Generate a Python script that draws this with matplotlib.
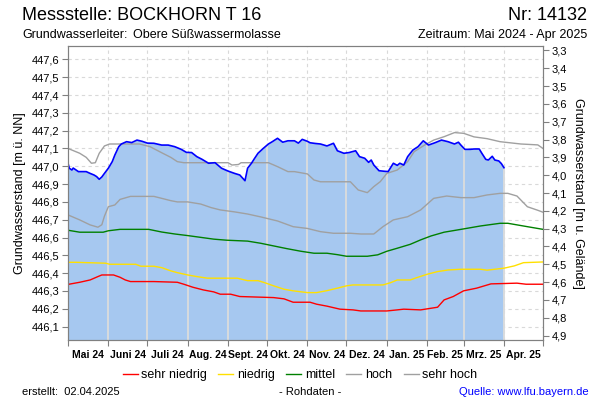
import numpy as np
import pandas as pd
import matplotlib
matplotlib.use("Agg")
import matplotlib.pyplot as plt
from matplotlib.ticker import FixedLocator, FuncFormatter, NullFormatter

plt.rcParams['font.family'] = ['Liberation Sans', 'DejaVu Sans']

# Basisdaten
start = pd.Timestamp('2024-05-01')
ende = pd.Timestamp('2025-05-01')
gelaende = 450.95  # Gelaendehoehe m ue. NN
y_unten, y_oben = 446.025, 447.675

# Messwerte (Tage ab 01.05.2024 / m ue. NN)
mess_tage = [0, 1, 3, 4, 8, 14, 17, 20, 22, 24, 26, 28, 31, 34, 36, 39, 41, 45, 49, 53,
             57, 61, 66, 72, 77, 82, 87, 91, 95, 99, 103, 108, 113, 118, 123, 128, 132, 136, 138, 141,
             143, 146, 150, 154, 157, 161, 165, 169, 174, 177, 180, 184, 186, 190, 194, 199, 204, 207, 212, 216,
             221, 224, 228, 231, 233, 235, 239, 243, 246, 250, 253, 255, 258, 261, 265, 269, 273, 277, 282, 287,
             292, 297, 300, 302, 305, 309, 312, 316, 318, 321, 323, 326, 328, 331, 333, 335]
mess_werte = [447.017, 446.989, 446.979, 446.990, 446.970, 446.970, 446.960, 446.951, 446.942, 446.927,
              446.940, 446.960, 446.989, 447.026, 447.063, 447.110, 447.125, 447.138, 447.133, 447.147,
              447.140, 447.130, 447.129, 447.119, 447.119, 447.110, 447.095, 447.078, 447.077, 447.054,
              447.039, 447.017, 447.020, 446.989, 446.973, 446.960, 446.951, 446.919, 446.989, 447.017,
              447.040, 447.073, 447.100, 447.125, 447.138, 447.157, 447.135, 447.143, 447.143, 447.130,
              447.151, 447.140, 447.132, 447.128, 447.125, 447.114, 447.129, 447.087, 447.073, 447.077,
              447.087, 447.054, 447.045, 447.022, 447.035, 447.007, 446.975, 446.972, 446.970, 447.017,
              447.005, 447.017, 447.007, 447.054, 447.091, 447.110, 447.143, 447.119, 447.132, 447.147,
              447.138, 447.125, 447.135, 447.118, 447.095, 447.095, 447.097, 447.097, 447.073, 447.039,
              447.035, 447.056, 447.035, 447.030, 447.015, 446.992]

# Kennwerte
sehr_niedrig_tage = [0, 9, 17, 23, 26, 35, 40, 44, 48, 66, 84, 89, 96, 104, 112, 117, 125, 132, 158, 166,
                     173, 186, 191, 199, 209, 219, 225, 245, 253, 258, 271, 284, 289, 296, 304, 314, 325, 345, 352, 365]
sehr_niedrig = [446.337, 446.349, 446.362, 446.381, 446.390, 446.390, 446.377, 446.362, 446.353, 446.353,
                446.349, 446.338, 446.321, 446.306, 446.295, 446.282, 446.282, 446.269, 446.263, 446.256,
                446.237, 446.237, 446.226, 446.215, 446.198, 446.194, 446.188, 446.188, 446.194, 446.198,
                446.194, 446.209, 446.250, 446.269, 446.301, 446.316, 446.340, 446.344, 446.338, 446.338]

niedrig_tage = [0, 6, 29, 32, 52, 56, 66, 72, 79, 84, 92, 99, 107, 130, 138, 146, 151, 158, 166, 173,
                184, 191, 199, 207, 214, 219, 242, 248, 253, 263, 268, 276, 284, 292, 302, 317, 322, 335, 343, 350, 365]
niedrig = [446.461, 446.461, 446.456, 446.450, 446.450, 446.439, 446.439, 446.431, 446.413, 446.403,
           446.390, 446.381, 446.372, 446.372, 446.358, 446.358, 446.347, 446.329, 446.310, 446.301,
           446.291, 446.291, 446.302, 446.316, 446.329, 446.334, 446.334, 446.347, 446.362, 446.362,
           446.375, 446.394, 446.409, 446.418, 446.422, 446.422, 446.417, 446.428, 446.441, 446.459, 446.463]

mittel_tage = [0, 9, 27, 31, 40, 62, 72, 82, 92, 105, 112, 122, 138, 148, 158, 168, 179, 189, 199, 207,
               214, 230, 238, 245, 253, 263, 271, 279, 289, 302, 317, 332, 338, 353, 365]
mittel = [446.641, 446.630, 446.630, 446.638, 446.646, 446.646, 446.631, 446.620, 446.611, 446.598,
          446.591, 446.585, 446.580, 446.568, 446.553, 446.538, 446.523, 446.512, 446.512, 446.504,
          446.495, 446.495, 446.503, 446.523, 446.540, 446.562, 446.587, 446.609, 446.630, 446.646,
          446.665, 446.680, 446.680, 446.661, 446.646]

hoch_tage = [0, 9, 17, 23, 26, 28, 31, 36, 40, 48, 66, 72, 79, 84, 92, 102, 110, 117, 128, 138,
             148, 161, 173, 184, 194, 204, 217, 225, 235, 242, 250, 261, 271, 281, 291, 302, 312, 322, 332, 338,
             345, 353, 361, 365]
hoch = [446.727, 446.699, 446.671, 446.658, 446.672, 446.720, 446.773, 446.783, 446.814, 446.831,
        446.831, 446.820, 446.807, 446.800, 446.800, 446.788, 446.768, 446.755, 446.744, 446.732,
        446.716, 446.693, 446.661, 446.651, 446.633, 446.624, 446.624, 446.620, 446.620, 446.661,
        446.699, 446.717, 446.755, 446.820, 446.833, 446.824, 446.824, 446.839, 446.848, 446.848,
        446.833, 446.773, 446.753, 446.742]

sehr_hoch_tage = [0, 9, 14, 18, 21, 24, 28, 32, 55, 63, 72, 79, 84, 89, 123, 126, 131, 133, 154, 161,
                  169, 174, 184, 189, 194, 217, 223, 230, 235, 240, 245, 253, 261, 266, 274, 281, 289, 297, 304, 312,
                  322, 332, 348, 361, 365]
sehr_hoch = [447.100, 447.073, 447.050, 447.017, 447.020, 447.073, 447.114, 447.125, 447.125, 447.110,
             447.076, 447.050, 447.026, 447.020, 447.020, 447.007, 447.010, 447.020, 447.020, 446.998,
             446.970, 446.970, 446.957, 446.923, 446.913, 446.913, 446.867, 446.852, 446.886, 446.914,
             446.960, 446.979, 447.026, 447.082, 447.119, 447.147, 447.166, 447.189, 447.185, 447.165,
             447.155, 447.138, 447.125, 447.120, 447.100]

monate = ['Mai 24', 'Juni 24', 'Juli 24', 'Aug. 24', 'Sept. 24', 'Okt. 24',
          'Nov. 24', 'Dez. 24', 'Jan. 25', 'Feb. 25', 'Mrz. 25', 'Apr. 25']


def datum(tage):
    return start + pd.to_timedelta(tage, unit='D')


komma = FuncFormatter(lambda v, p: f'{v:.1f}'.replace('.', ','))
grau = '#808080'

fig = plt.figure(figsize=(6, 4), dpi=100)
ax = fig.add_axes([68 / 600, 60 / 400, 475 / 600, 294 / 400])

mess_datum = datum(mess_tage)
ax.fill_between(mess_datum, y_unten, mess_werte, color='#a6c8f0', lw=0, zorder=1)

# Monatsgrenzen
grenzen = pd.date_range(start, ende, freq='MS')
for g in grenzen[1:-1]:
    ax.axvline(g, color='#d9d9d9', lw=0.8, ls=(0, (3, 3)), zorder=0)
for g in grenzen[1:]:
    t = (g - start).days
    if t <= mess_tage[-1]:
        ax.vlines(g, y_unten, np.interp(t, mess_tage, mess_werte), color='#dcdcdc', lw=1.3, zorder=2)

links_ticks = np.round(np.arange(446.1, 447.65, 0.1), 1)
for v in links_ticks:
    ax.axhline(v, color='#d9d9d9', lw=0.8, ls=(0, (3, 3)), zorder=0)

l1, = ax.plot(datum(sehr_niedrig_tage), sehr_niedrig, color='#ff0000', lw=1, zorder=3)
l2, = ax.plot(datum(niedrig_tage), niedrig, color='#ffe000', lw=1, zorder=3)
l3, = ax.plot(datum(mittel_tage), mittel, color='#008000', lw=1, zorder=3)
l4, = ax.plot(datum(hoch_tage), hoch, color='#a0a0a0', lw=1, zorder=3)
l5, = ax.plot(datum(sehr_hoch_tage), sehr_hoch, color='#a0a0a0', lw=1, zorder=3)
ax.plot(mess_datum, mess_werte, color='#0000ff', lw=1.2, zorder=4)

ax.set_xlim(start, ende)
ax.set_ylim(y_unten, y_oben)

# x-Achse: Striche an Monatsgrenzen, Beschriftung in Monatsmitte
ax.xaxis.set_major_locator(FixedLocator([matplotlib.dates.date2num(g) for g in grenzen]))
ax.xaxis.set_major_formatter(NullFormatter())
mitten = [matplotlib.dates.date2num(a + (b - a) / 2) for a, b in zip(grenzen[:-1], grenzen[1:])]
ax.xaxis.set_minor_locator(FixedLocator(mitten))
ax.set_xticklabels(monate, minor=True, fontsize=7.5, fontweight='bold')
ax.tick_params(axis='x', which='major', length=4, color=grau)
ax.tick_params(axis='x', which='minor', length=0, pad=7)

ax.yaxis.set_major_locator(FixedLocator(links_ticks))
ax.yaxis.set_major_formatter(komma)
ax.tick_params(axis='y', length=4, color=grau, labelsize=8, pad=2)
ax.set_ylabel('Grundwasserstand [m ü. NN]', fontsize=9, labelpad=4)

ax2 = ax.twinx()
ax2.set_ylim(gelaende - y_unten, gelaende - y_oben)
ax2.yaxis.set_major_locator(FixedLocator(np.round(np.arange(3.3, 4.95, 0.1), 1)))
ax2.yaxis.set_major_formatter(komma)
ax2.tick_params(axis='y', length=4, color=grau, labelsize=8, pad=2)
ax2.set_ylabel('Grundwasserstand [m u. Gelände]', fontsize=9, rotation=-90, labelpad=12)

for a in (ax, ax2):
    for s in a.spines.values():
        s.set_color(grau)

# Kopf
fig.text(22 / 600, 1 - 15 / 400, 'Messstelle: BOCKHORN T 16', fontsize=13, va='center')
fig.text(587 / 600, 1 - 15 / 400, 'Nr: 14132', fontsize=13, va='center', ha='right')
fig.text(22 / 600, 1 - 35 / 400, 'Grundwasserleiter:', fontsize=9, va='center')
fig.text(133 / 600, 1 - 35 / 400, 'Obere Süßwassermolasse', fontsize=9, va='center')
fig.text(587 / 600, 1 - 35 / 400, 'Zeitraum: Mai 2024 - Apr 2025', fontsize=9, va='center', ha='right')

fig.legend([l1, l2, l3, l4, l5], ['sehr niedrig', 'niedrig', 'mittel', 'hoch', 'sehr hoch'],
           loc='center', bbox_to_anchor=(300 / 600, 1 - 375 / 400), ncol=5, frameon=False,
           fontsize=9, handlelength=1.2, handletextpad=0.3, columnspacing=0.9)

# Fuss
fig.text(22 / 600, 1 - 392 / 400, 'erstellt:  02.04.2025', fontsize=8, va='center')
fig.text(310 / 600, 1 - 392 / 400, '- Rohdaten -', fontsize=8, va='center', ha='center')
fig.text(589 / 600, 1 - 392 / 400, 'Quelle: www.lfu.bayern.de', fontsize=8, va='center', ha='right',
         color='#0000ff')

fig.savefig('out.png', dpi=100)
